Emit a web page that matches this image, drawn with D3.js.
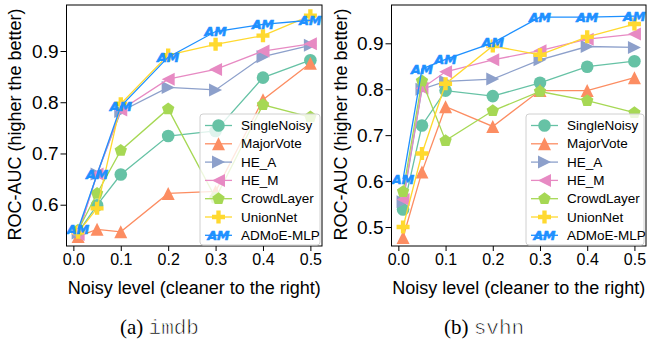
<!DOCTYPE html>
<html>
<head>
<meta charset="utf-8">
<script src="https://cdn.jsdelivr.net/npm/d3@7"></script>
<style>
  html, body { margin: 0; padding: 0; background: #fff; }
  svg { display: block; }
</style>
</head>
<body>
<svg id="chart" width="647" height="341"></svg>
<script>
// ---------------- data ----------------
const noiseLevels = [0.01, 0.05, 0.1, 0.2, 0.3, 0.4, 0.5];
const xTickValues = [0.0, 0.1, 0.2, 0.3, 0.4, 0.5];
const yTicksImdb = [0.6, 0.7, 0.8, 0.9];
const yTicksSvhn = [0.5, 0.6, 0.7, 0.8, 0.9];
const seriesNames = ["SingleNoisy", "MajorVote", "HE_A", "HE_M", "CrowdLayer", "UnionNet", "ADMoE-MLP"];
const seriesColors = ["#66c2a5", "#fc8d62", "#8da0cb", "#e78ac3", "#a6d854", "#ffd92f", "#1e90ff"];
const seriesMarkers = ["circle", "triUp", "triRight", "triLeft", "pentagon", "plus", "am"];

// imdb
const imdbSingleNoisy = [0.546, 0.599, 0.659, 0.734, 0.744, 0.848, 0.882];
const imdbMajorVote   = [0.538, 0.552, 0.547, 0.622, 0.626, 0.805, 0.876];
const imdbHE_A        = [0.545, 0.660, 0.782, 0.829, 0.824, 0.889, 0.911];
const imdbHE_M        = [0.542, 0.660, 0.785, 0.845, 0.864, 0.900, 0.914];
const imdbCrowdLayer  = [0.550, 0.622, 0.706, 0.787, 0.613, 0.795, 0.771];
const imdbUnionNet    = [0.546, 0.593, 0.797, 0.892, 0.913, 0.930, 0.969];
const imdbADMoE       = [0.552, 0.659, 0.792, 0.888, 0.938, 0.952, 0.960];

// svhn
const svhnSingleNoisy = [0.538, 0.721, 0.797, 0.785, 0.814, 0.849, 0.861];
const svhnMajorVote   = [0.477, 0.620, 0.762, 0.719, 0.797, 0.797, 0.825];
const svhnHE_A        = [0.555, 0.800, 0.817, 0.822, 0.864, 0.893, 0.891];
const svhnHE_M        = [0.560, 0.802, 0.838, 0.864, 0.884, 0.909, 0.920];
const svhnCrowdLayer  = [0.577, 0.818, 0.688, 0.753, 0.795, 0.775, 0.749];
const svhnUnionNet    = [0.500, 0.660, 0.812, 0.894, 0.875, 0.914, 0.942];
const svhnADMoE       = [0.604, 0.844, 0.865, 0.901, 0.957, 0.957, 0.959];

const imdbSeries = [imdbSingleNoisy, imdbMajorVote, imdbHE_A, imdbHE_M, imdbCrowdLayer, imdbUnionNet, imdbADMoE];
const svhnSeries = [svhnSingleNoisy, svhnMajorVote, svhnHE_A, svhnHE_M, svhnCrowdLayer, svhnUnionNet, svhnADMoE];

// ---------------- drawing ----------------
const svg = d3.select("#chart");
const FONT = "'Liberation Sans', Arial, Helvetica, sans-serif";

function markerPath(type, r) {
  const p = d3.path();
  if (type === "triUp") {
    p.moveTo(0, -r); p.lineTo(-r, r); p.lineTo(r, r); p.closePath();
  } else if (type === "triRight") {
    p.moveTo(r, 0); p.lineTo(-r, -r); p.lineTo(-r, r); p.closePath();
  } else if (type === "triLeft") {
    p.moveTo(-r, 0); p.lineTo(r, -r); p.lineTo(r, r); p.closePath();
  } else if (type === "pentagon") {
    for (let i = 0; i < 5; i++) {
      const a = -Math.PI / 2 + i * 2 * Math.PI / 5;
      const x = r * Math.cos(a), y = r * Math.sin(a);
      if (i === 0) p.moveTo(x, y); else p.lineTo(x, y);
    }
    p.closePath();
  } else if (type === "plus") {
    const pts = [[-1,-3],[1,-3],[1,-1],[3,-1],[3,1],[1,1],[1,3],[-1,3],[-1,1],[-3,1],[-3,-1],[-1,-1]];
    pts.forEach((q, i) => {
      const x = q[0] * r / 3, y = q[1] * r / 3;
      if (i === 0) p.moveTo(x, y); else p.lineTo(x, y);
    });
    p.closePath();
  }
  return p.toString();
}

function drawMarker(g, type, color, x, y) {
  if (type === "circle") {
    g.append("circle").attr("cx", x).attr("cy", y).attr("r", 6.3).attr("fill", color);
  } else if (type === "am") {
    g.append("text").attr("x", x).attr("y", y)
      .attr("text-anchor", "middle").attr("dominant-baseline", "central")
      .attr("font-family", "'DejaVu Sans', sans-serif")
      .attr("font-style", "italic").attr("font-weight", "bold")
      .attr("font-size", 12.5)
      .attr("fill", color).attr("stroke", color).attr("stroke-width", 0.6)
      .text("AM");
  } else {
    g.append("path").attr("transform", `translate(${x},${y})`)
      .attr("d", markerPath(type, 6.5)).attr("fill", color);
  }
}

function panel(opts) {
  const x = d3.scaleLinear().domain([-0.0145, 0.5245]).range([opts.left, opts.right]);
  const y = d3.scaleLinear().domain(opts.yDomain).range([opts.bottom, opts.top]);
  const g = svg.append("g");

  // data
  const plot = g.append("g");
  opts.series.forEach((vals, si) => {
    const color = seriesColors[si];
    const pts = noiseLevels.map((n, i) => [x(n), y(vals[i])]);
    const sg = plot.append("g");
    sg.append("path").attr("d", d3.line()(pts))
      .attr("fill", "none").attr("stroke", color).attr("stroke-width", 1.3);
    pts.forEach(pt => drawMarker(sg, seriesMarkers[si], color, pt[0], pt[1]));
  });

  // axes
  const xAxis = d3.axisBottom(x).tickValues(xTickValues).tickFormat(d3.format(".1f"))
    .tickSize(5).tickPadding(3);
  const yAxis = d3.axisLeft(y).tickValues(opts.yTicks).tickFormat(d3.format(".1f"))
    .tickSize(6).tickPadding(2);
  const gx = g.append("g").attr("transform", `translate(0,${opts.bottom})`).call(xAxis);
  gx.select(".domain").remove();
  gx.selectAll("text").attr("font-family", FONT).attr("font-size", 16).attr("fill", "#000");
  gx.selectAll("line").attr("stroke", "#000");
  const gy = g.append("g").attr("transform", `translate(${opts.left},0)`).call(yAxis);
  gy.select(".domain").remove();
  gy.selectAll("text").attr("font-family", FONT).attr("font-size", 19).attr("fill", "#000");
  gy.selectAll("line").attr("stroke", "#000");

  // frame
  g.append("rect").attr("x", opts.left).attr("y", opts.top)
    .attr("width", opts.right - opts.left).attr("height", opts.bottom - opts.top)
    .attr("fill", "none").attr("stroke", "#000").attr("stroke-width", 1);

  // axis labels
  g.append("text").attr("x", (opts.left + opts.right) / 2).attr("y", 294)
    .attr("text-anchor", "middle").attr("font-family", FONT).attr("font-size", 18)
    .text("Noisy level (cleaner to the right)");
  g.append("text")
    .attr("transform", `translate(${opts.ylabelX},${(opts.top + opts.bottom) / 2 - 1}) rotate(-90)`)
    .attr("text-anchor", "middle").attr("dominant-baseline", "central")
    .attr("font-family", FONT).attr("font-size", 18)
    .text("ROC-AUC (higher the better)");

  // legend
  const lg = g.append("g");
  lg.append("rect").attr("x", opts.legX).attr("y", 114)
    .attr("width", opts.legW).attr("height", 131).attr("rx", 3)
    .attr("fill", "#fff").attr("fill-opacity", 0.8)
    .attr("stroke", "#d0d0d0").attr("stroke-width", 1);
  seriesNames.forEach((name, si) => {
    const cy = 125.5 + si * 18.3;
    const x0 = opts.legX + 5, x1 = opts.legX + 32;
    lg.append("line").attr("x1", x0).attr("x2", x1).attr("y1", cy).attr("y2", cy)
      .attr("stroke", seriesColors[si]).attr("stroke-width", 1.3);
    drawMarker(lg, seriesMarkers[si], seriesColors[si], (x0 + x1) / 2, cy);
    lg.append("text").attr("x", opts.legX + 41).attr("y", cy)
      .attr("dominant-baseline", "central")
      .attr("font-family", FONT).attr("font-size", 13.5).text(name);
  });

  // caption
  const cap = g.append("text").attr("x", opts.capX).attr("y", 334).attr("font-size", 21);
  cap.append("tspan").attr("font-family", "'Liberation Serif', 'Times New Roman', serif").text("(" + opts.letter + ") ");
  cap.append("tspan").attr("font-family", "'Liberation Mono', 'Courier New', monospace")
    .attr("stroke", "#fff").attr("stroke-width", 0.7).text(opts.name);
}

panel({
  left: 66.5, right: 322, top: 5, bottom: 246,
  yDomain: [0.5194, 0.9898], yTicks: yTicksImdb, series: imdbSeries,
  ylabelX: 15, legX: 200, legW: 120, capX: 120, letter: "a", name: "imdb"
});
panel({
  left: 391.5, right: 646, top: 5, bottom: 246,
  yDomain: [0.4586, 0.9834], yTicks: yTicksSvhn, series: svhnSeries,
  ylabelX: 341, legX: 526, legW: 118, capX: 444, letter: "b", name: "svhn"
});
</script>
</body>
</html>
